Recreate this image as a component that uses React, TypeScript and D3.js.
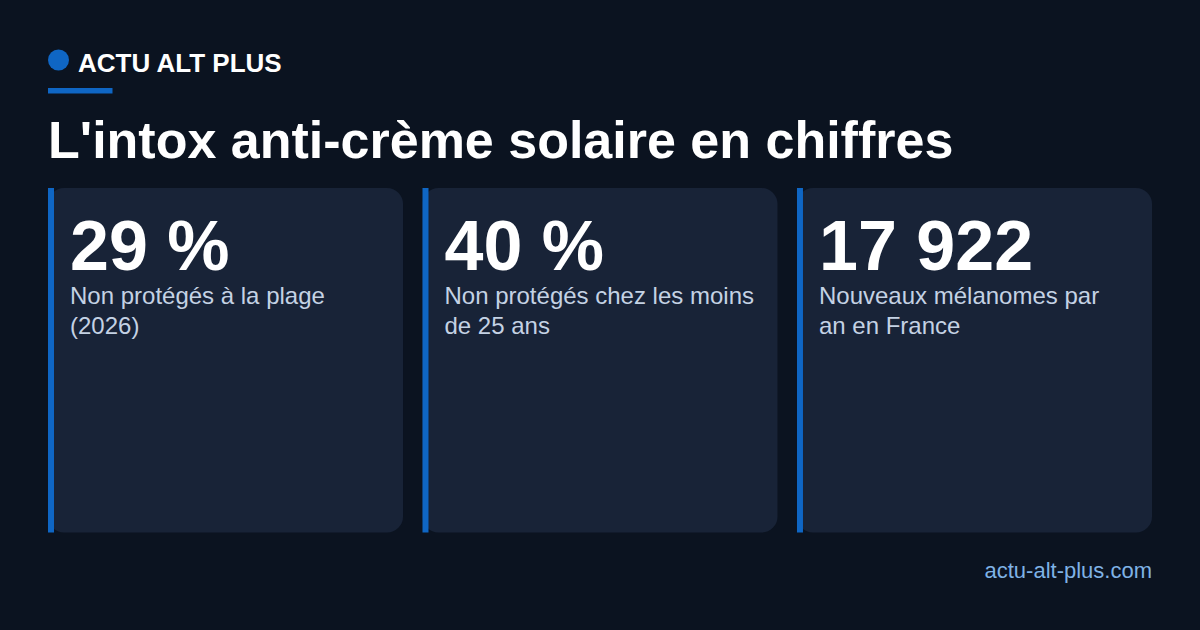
import React, { useRef, useEffect } from "react";
import * as d3 from "d3";

const brand = "ACTU ALT PLUS";
const title = "L'intox anti-crème solaire en chiffres";
const footer = "actu-alt-plus.com";
const statValues = ["29 %", "40 %", "17 922"];
const statLabels = [
  ["Non protégés à la plage", "(2026)"],
  ["Non protégés chez les moins", "de 25 ans"],
  ["Nouveaux mélanomes par", "an en France"],
];

const FONT = "'Liberation Sans', Arial, sans-serif";
const BLUE = "#0f66c4";

export default function App() {
  const svgRef = useRef<SVGSVGElement>(null);

  useEffect(() => {
    if (!svgRef.current) return;
    const svg = d3.select(svgRef.current);
    svg.selectAll("*").remove();

    svg.append("rect").attr("width", 1200).attr("height", 630).attr("fill", "#0b1320");

    // header
    svg.append("circle").attr("cx", 58.5).attr("cy", 60).attr("r", 10.5).attr("fill", BLUE);
    svg.append("text")
      .attr("x", 78).attr("y", 72)
      .style("font-size", "26px").style("font-weight", 700)
      .style("fill", "#ffffff")
      .text(brand);
    svg.append("rect").attr("x", 48).attr("y", 88).attr("width", 64.5).attr("height", 5.5).attr("fill", BLUE);
    svg.append("text")
      .attr("x", 48).attr("y", 158)
      .style("font-size", "52px").style("font-weight", 700)
      .style("fill", "#ffffff")
      .text(title);

    // cards
    const x = d3.scaleBand<number>()
      .domain(d3.range(statValues.length))
      .range([48, 1152])
      .paddingInner(0.052);

    const cards = svg.selectAll("g.card")
      .data(statValues)
      .join("g")
      .attr("class", "card")
      .attr("transform", (_, i) => `translate(${x(i)},188)`);

    cards.append("rect")
      .attr("width", x.bandwidth()).attr("height", 344.5)
      .attr("rx", 16).attr("fill", "#182337");
    cards.append("rect")
      .attr("width", 6).attr("height", 344.5)
      .attr("fill", BLUE);
    cards.append("text")
      .attr("x", 22).attr("y", 82)
      .style("font-size", "70px").style("font-weight", 700)
      .style("fill", "#ffffff")
      .text(d => d);
    cards.each(function (_, i) {
      d3.select(this).selectAll("text.label")
        .data(statLabels[i])
        .join("text")
        .attr("class", "label")
        .attr("x", 22)
        .attr("y", (_, j) => 116 + j * 30)
        .style("font-size", "24px")
        .style("fill", "#c4d2e4")
        .text(d => d);
    });

    svg.append("text")
      .attr("x", 1152).attr("y", 578)
      .attr("text-anchor", "end")
      .style("font-size", "22px")
      .style("fill", "#7fb2e5")
      .text(footer);
  }, []);

  return (
    <svg
      ref={svgRef}
      width={1200}
      height={630}
      style={{ position: "fixed", left: 0, top: 0, fontFamily: FONT }}
    />
  );
}
